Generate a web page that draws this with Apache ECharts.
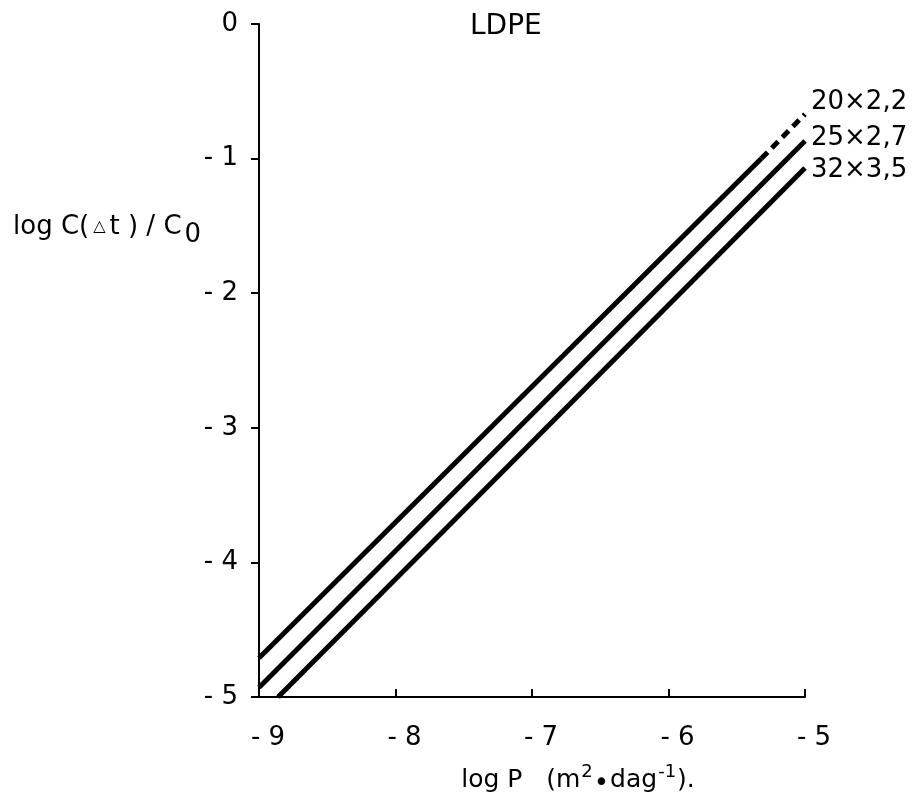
<!DOCTYPE html>
<html>
<head>
<meta charset="utf-8">
<script src="https://cdn.jsdelivr.net/npm/echarts@6/dist/echarts.min.js"></script>
<style>
html,body{margin:0;padding:0;background:#fff;}
#main{width:919px;height:803px;}
</style>
</head>
<body>
<div id="main"></div>
<script>
const xTicks = [-9, -8, -7, -6, -5];
const yTicks = [0, -1, -2, -3, -4, -5];
const seriesNames = ['20×2,2', '25×2,7', '32×3,5'];
// log P, log C(dt)/C0
const line20Solid = [[-9, -4.71], [-5.32, -1.0]];
const line20Dashed = [[-5.32, -1.0], [-5, -0.67]];
const line25 = [[-9, -4.93], [-5, -0.87]];
const line32 = [[-8.86, -5], [-5, -1.07]];

const fontFam = 'DejaVu Sans, Liberation Sans, Arial, sans-serif';
const chart = echarts.init(document.getElementById('main'), null, {renderer: 'canvas'});
function fmt(v){ return v < 0 ? '- ' + Math.abs(v) : String(v); }

function endLabel(name, dy){
  return {
    show: true,
    formatter: name,
    distance: 6,
    offset: [0, dy],
    fontFamily: fontFam,
    fontSize: 26,
    color: '#000'
  };
}

chart.setOption({
  animation: false,
  backgroundColor: '#fff',
  title: {
    text: 'LDPE',
    left: 465,
    top: 8,
    textStyle: {fontFamily: fontFam, fontSize: 28, fontWeight: 'normal', color: '#000'}
  },
  graphic: [{
    type: 'text',
    left: 13,
    top: 214,
    style: {
      text: 'log C({tri|△}t ) / C{sub|0}',
      fontFamily: fontFam, fontSize: 26, fill: '#000',
      rich: {
        tri: {fontFamily: 'DejaVu Sans', fontSize: 16, fill: '#000', padding: [0, 4, 0, 4]},
        sub: {fontFamily: fontFam, fontSize: 26, fill: '#000', padding: [16, 0, 0, 3]}
      }
    }
  }],
  grid: {left: 259, right: 114, top: 24, bottom: 106, containLabel: false, outerBoundsMode: 'none'},
  xAxis: {
    type: 'value',
    min: -9, max: -5, interval: 1,
    name: 'log P   (m{sup|2}{dot|•}dag{sup|-1}).',
    nameLocation: 'middle',
    nameGap: 66,
    nameTextStyle: {
      fontFamily: fontFam, fontSize: 25, color: '#000',
      padding: [0, 0, 0, 92],
      rich: {
        sup: {fontFamily: fontFam, fontSize: 18, verticalAlign: 'top', padding: [0,1,14,1], color: '#000'},
        dot: {fontFamily: fontFam, fontSize: 26, color: '#000', padding: [8,1,0,0]}
      }
    },
    axisLine: {show: true, onZero: false, lineStyle: {color: '#000', width: 2}},
    axisTick: {show: true, inside: true, length: 8, lineStyle: {color: '#000', width: 2}},
    axisLabel: {
      show: true, margin: 28,
      fontFamily: fontFam, fontSize: 26, color: '#000',
      padding: [0, 0, 0, 18],
      formatter: fmt
    },
    splitLine: {show: false}
  },
  yAxis: {
    type: 'value',
    min: -5, max: 0, interval: 1,
    axisLine: {show: true, onZero: false, lineStyle: {color: '#000', width: 2}},
    axisTick: {show: true, inside: false, length: 8, lineStyle: {color: '#000', width: 2}},
    axisLabel: {
      show: true, margin: 21,
      fontFamily: fontFam, fontSize: 26, color: '#000',
      formatter: fmt
    },
    splitLine: {show: false}
  },
  series: [
    {
      name: seriesNames[0] + ' solid', type: 'line', data: line20Solid,
      symbol: 'none', lineStyle: {color: '#000', width: 5}, silent: true
    },
    {
      name: seriesNames[0], type: 'line', data: line20Dashed,
      symbol: 'none', lineStyle: {color: '#000', width: 5, type: [9, 6]}, silent: true,
      endLabel: endLabel(seriesNames[0], -12)
    },
    {
      name: seriesNames[1], type: 'line', data: line25,
      symbol: 'none', lineStyle: {color: '#000', width: 5}, silent: true,
      endLabel: endLabel(seriesNames[1], -3)
    },
    {
      name: seriesNames[2], type: 'line', data: line32,
      symbol: 'none', lineStyle: {color: '#000', width: 5}, silent: true,
      endLabel: endLabel(seriesNames[2], 2)
    }
  ]
});
</script>
</body>
</html>
